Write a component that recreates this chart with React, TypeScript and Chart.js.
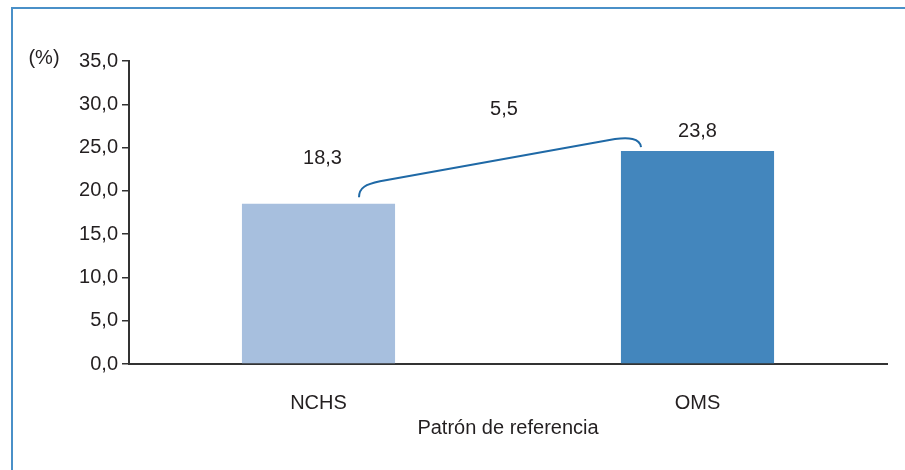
import React, { useEffect, useRef } from "react";
import { Chart, registerables } from "chart.js";

Chart.register(...registerables);

const categories = ["NCHS", "OMS"];
const barValues = [18.5, 24.6];
const valueLabels = ["18,3", "23,8"];
const differenceLabel = "5,5";
const yTickLabels = ["0,0", "5,0", "10,0", "15,0", "20,0", "25,0", "30,0", "35,0"];
const yUnitLabel = "(%)";
const xTitle = "Patrón de referencia";
const barColors = ["#a7bfde", "#4386bd"];

const FONT = "'Liberation Sans', Arial, sans-serif";
const TEXT = "#231f20";

const annotations = {
  id: "annotations",
  afterDatasetsDraw(chart: any) {
    const meta = chart.getDatasetMeta(0);
    const b0 = meta.data[0];
    const b1 = meta.data[1];
    const ctx = chart.ctx;
    ctx.save();
    ctx.fillStyle = TEXT;
    ctx.font = `20px ${FONT}`;
    ctx.textAlign = "center";
    ctx.textBaseline = "middle";
    ctx.fillText(valueLabels[0], b0.x + 4, b0.y - 45);
    ctx.fillText(valueLabels[1], b1.x, b1.y - 20);
    ctx.fillText(differenceLabel, (b0.x + b1.x) / 2 - 4, b1.y - 42);

    // bracket
    const sx = b0.x + 40.5, sy = b0.y - 6.5;
    const ex = b1.x - 56.5, ey = b1.y - 4;
    ctx.strokeStyle = "#1f69a6";
    ctx.lineWidth = 2;
    ctx.beginPath();
    ctx.moveTo(sx, sy);
    ctx.bezierCurveTo(sx, sy - 10, sx + 7, sy - 13, sx + 21, sy - 16);
    ctx.lineTo(ex - 26, ey - 8);
    ctx.bezierCurveTo(ex - 13, ey - 10, ex - 1, ey - 9, ex, ey);
    ctx.stroke();

    // y unit label
    ctx.font = `20px ${FONT}`;
    ctx.textAlign = "center";
    ctx.fillText(yUnitLabel, 44, chart.chartArea.top - 3);
    ctx.restore();
  },
};

export default function App() {
  const ref = useRef<HTMLCanvasElement>(null);
  useEffect(() => {
    if (!ref.current) return;
    const chart = new Chart(ref.current, {
      type: "bar",
      data: {
        labels: categories,
        datasets: [
          {
            data: barValues,
            backgroundColor: barColors,
            borderWidth: 0,
            barPercentage: 0.404,
            categoryPercentage: 1,
          },
        ],
      },
      options: {
        animation: false,
        responsive: false,
        maintainAspectRatio: false,
        layout: { padding: { left: 0, right: 18, top: 61, bottom: 0 } },
        plugins: { legend: { display: false }, tooltip: { enabled: false } },
        scales: {
          x: {
            grid: { display: false },
            border: { display: true, color: "#333333", width: 2 },
            ticks: { color: TEXT, font: { family: FONT, size: 20 }, padding: 19 },
            title: {
              display: true,
              text: xTitle,
              color: TEXT,
              font: { family: FONT, size: 20 },
              padding: { top: 0, bottom: 30 },
            },
            afterFit(scale: any) {
              scale.height = 106;
            },
          },
          y: {
            min: 0,
            max: 35,
            grid: { drawOnChartArea: false, drawTicks: true, tickLength: 7, color: "#333333", lineWidth: 1.5 },
            border: { display: true, color: "#333333", width: 2 },
            ticks: {
              stepSize: 5,
              color: TEXT,
              font: { family: FONT, size: 20 },
              padding: 4,
              callback: (_v: any, i: number) => yTickLabels[i],
            },
            afterFit(scale: any) {
              scale.width = 129;
            },
          },
        },
      },
      plugins: [annotations],
    });
    return () => chart.destroy();
  }, []);
  return (
    <div style={{ position: "absolute", left: 0, top: 0, width: 905, height: 470, background: "#fff", overflow: "hidden" }}>
      <div
        style={{
          position: "absolute",
          left: 11,
          top: 7,
          width: 900,
          height: 480,
          borderLeft: "2px solid #4a90c8",
          borderTop: "2px solid #4a90c8",
        }}
      />
      <canvas ref={ref} width={905} height={470} style={{ position: "absolute", left: 0, top: 0 }} />
    </div>
  );
}
